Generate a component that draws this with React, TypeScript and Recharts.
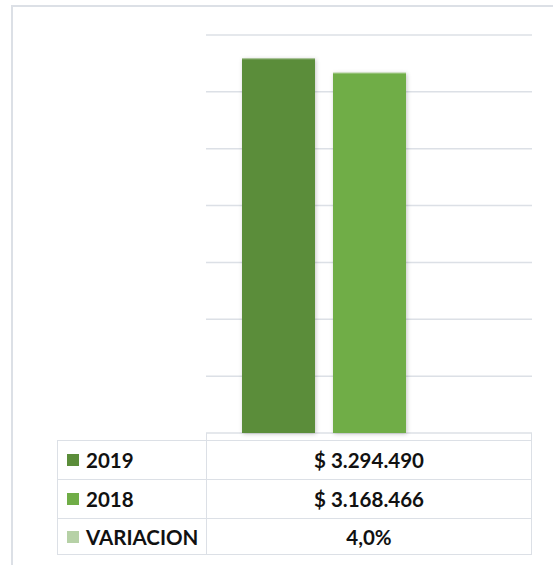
import React from 'react';
import { BarChart, Bar, XAxis, YAxis, CartesianGrid } from 'recharts';

const categories = [''];
const seriesNames = ['2019', '2018', 'VARIACION'];
const seriesValues = [3294490, 3168466, 0.04];
const seriesColors = ['#5B8D3A', '#70AD47', '#B6D1A6'];
const yTicks = [0, 500000, 1000000, 1500000, 2000000, 2500000, 3000000, 3500000];

const seriesKeys = ['s2019', 's2018', 'variacion'];

const data = categories.map((name) => {
  const row: Record<string, string | number> = { name };
  seriesKeys.forEach((k, i) => {
    row[k] = seriesValues[i];
  });
  return row;
});

const formatMoney = (v: number) =>
  '$ ' + Math.round(v).toString().replace(/\B(?=(\d{3})+(?!\d))/g, '.');
const formatPct = (v: number) => (v * 100).toFixed(1).replace('.', ',') + '%';
const cellText = (i: number) =>
  seriesNames[i] === 'VARIACION' ? formatPct(seriesValues[i]) : formatMoney(seriesValues[i]);

const W = 553;
const H = 565;
const PLOT_LEFT = 206;
const PLOT_RIGHT = 532;
const PLOT_TOP = 35;
const PLOT_BOTTOM = 433;
const TABLE_LEFT = 57;
const ROW_TOPS = [440, 479, 518];
const ROW_H = [39, 39, 37];
const LINE = '#DCE0E6';
const FONT = 'Lato, "Open Sans", sans-serif';

const ShadowRect = (props: any) => {
  const { x, y, width, height, fill } = props;
  if (!height || height < 1) return null;
  return (
    <g style={{ filter: 'drop-shadow(1px 1px 2px rgba(0,0,0,0.22))' }}>
      <rect x={x} y={y} width={width} height={height} fill={fill} />
      <line x1={x} x2={x + width} y1={y + 0.5} y2={y + 0.5} stroke="rgba(255,255,255,0.35)" />
    </g>
  );
};

export default function App() {
  return (
    <div style={{ position: 'absolute', left: 0, top: 0, width: W, height: H, overflow: 'hidden', background: '#fff', fontFamily: FONT }}>
      <div
        style={{
          position: 'absolute',
          left: 11,
          top: 5,
          width: 700,
          height: 700,
          border: `2px solid ${LINE}`,
        }}
      />
      <div style={{ position: 'absolute', left: 0, top: 0 }}>
        <BarChart
          width={W}
          height={H}
          data={data}
          margin={{ top: PLOT_TOP, left: PLOT_LEFT, right: W - PLOT_RIGHT, bottom: H - PLOT_BOTTOM }}
          barSize={73}
          barGap={18}
        >
          <CartesianGrid vertical={false} stroke={LINE} strokeWidth={1.5} />
          <XAxis dataKey="name" hide />
          <YAxis hide domain={[0, 3500000]} ticks={yTicks} />
          {seriesKeys.map((k, i) => (
            <Bar
              key={k}
              dataKey={k}
              name={seriesNames[i]}
              fill={seriesColors[i]}
              isAnimationActive={false}
              shape={<ShadowRect />}
            />
          ))}
        </BarChart>
      </div>
      {/* data table */}
      <div
        style={{
          position: 'absolute',
          left: PLOT_LEFT,
          top: PLOT_BOTTOM,
          width: PLOT_RIGHT - PLOT_LEFT,
          height: ROW_TOPS[0] - PLOT_BOTTOM,
          borderLeft: `1.5px solid ${LINE}`,
          borderRight: `1.5px solid ${LINE}`,
          boxSizing: 'border-box',
        }}
      />
      {seriesNames.map((s, i) => (
        <React.Fragment key={s}>
          <div
            style={{
              position: 'absolute',
              left: TABLE_LEFT,
              top: ROW_TOPS[i],
              width: PLOT_LEFT - TABLE_LEFT,
              height: ROW_H[i],
              border: `1.5px solid ${LINE}`,
              borderRight: 'none',
              borderBottom: i === seriesNames.length - 1 ? `1.5px solid ${LINE}` : 'none',
              boxSizing: 'border-box',
              display: 'flex',
              alignItems: 'center',
            }}
          >
            <span style={{ display: 'inline-block', width: 12, height: 12, background: seriesColors[i], marginLeft: 9, marginRight: 7 }} />
            <span style={{ fontWeight: 700, fontSize: 20.5, color: '#111' }}>{s}</span>
          </div>
          <div
            style={{
              position: 'absolute',
              left: PLOT_LEFT,
              top: ROW_TOPS[i],
              width: PLOT_RIGHT - PLOT_LEFT,
              height: ROW_H[i],
              border: `1.5px solid ${LINE}`,
              borderBottom: i === seriesNames.length - 1 ? `1.5px solid ${LINE}` : 'none',
              boxSizing: 'border-box',
              display: 'flex',
              alignItems: 'center',
              justifyContent: 'center',
              fontWeight: 700,
              fontSize: 20.5,
              color: '#111',
            }}
          >
            {cellText(i)}
          </div>
        </React.Fragment>
      ))}
    </div>
  );
}
